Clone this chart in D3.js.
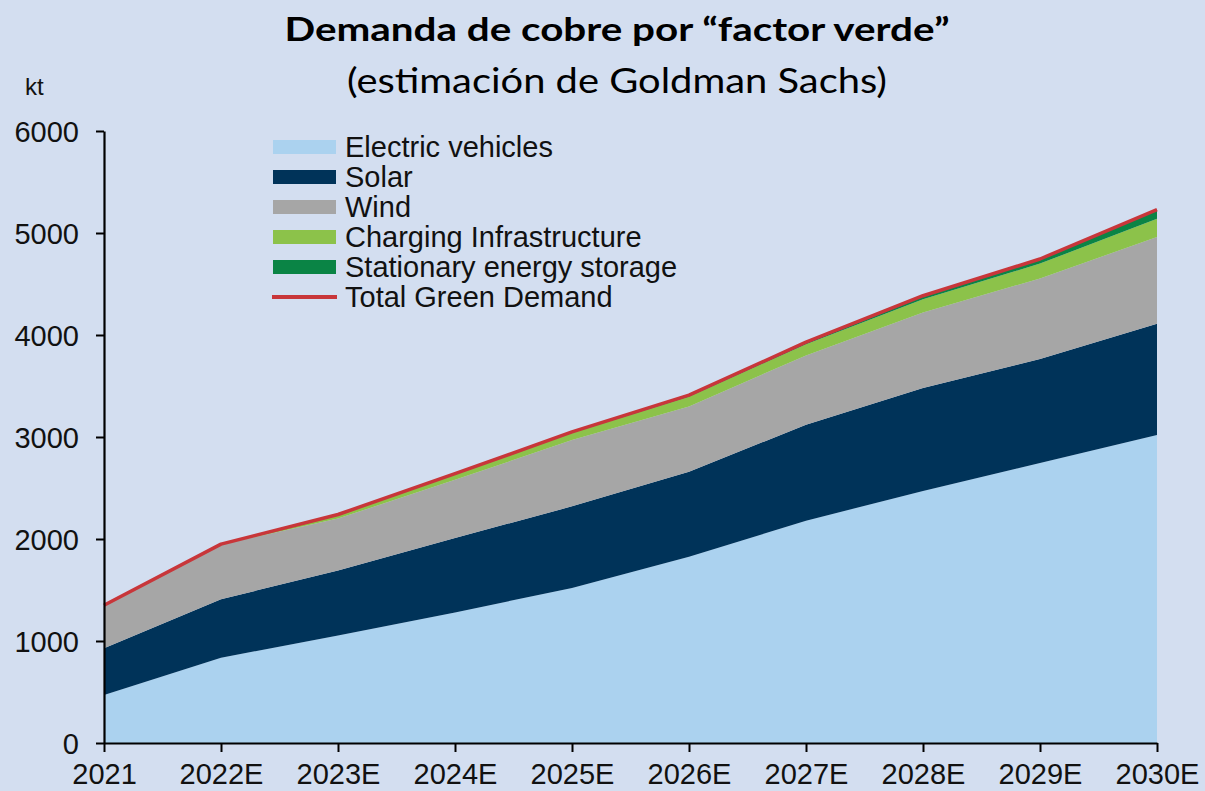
<!DOCTYPE html>
<html><head><meta charset="utf-8">
<script src="https://cdn.jsdelivr.net/npm/d3@7"></script>
<style>
html,body{margin:0;padding:0;background:#D3DEF0;}
svg{display:block;}
</style>
</head><body>
<svg id="chart" width="1205" height="791"></svg>
<script>
// ---- data (kt) ----
const years = ["2021","2022E","2023E","2024E","2025E","2026E","2027E","2028E","2029E","2030E"];
const electricVehicles       = [470, 835, 1055, 1280, 1520, 1825, 2180, 2470, 2745, 3020];
const solar                  = [460, 575,  635,  730,  800,  835,  940, 1010, 1020, 1090];
const wind                   = [420, 535,  510,  570,  650,  640,  680,  740,  790,  850];
const chargingInfrastructure = [  0,   5,   35,   55,   70,   95,  110,  130,  145,  180];
const stationaryStorage      = [  0,   0,    5,    5,   10,   15,   20,   35,   45,   90];
const yTickValues = [0, 1000, 2000, 3000, 4000, 5000, 6000];
const seriesNames = ["Electric vehicles","Solar","Wind","Charging Infrastructure","Stationary energy storage"];
const lineName = "Total Green Demand";
const seriesColors = ["#ABD2EF","#003359","#A6A6A6","#8CC24A","#0A8445"];
const lineColor = "#C8363A";

const seriesValues = [electricVehicles, solar, wind, chargingInfrastructure, stationaryStorage];
const rows = years.map((yr, i) => {
  const r = {year: yr};
  seriesNames.forEach((n, k) => r[n] = seriesValues[k][i]);
  return r;
});
const totals = years.map((yr, i) => seriesValues.reduce((s, arr) => s + arr[i], 0));

const svg = d3.select("#chart");
const x = d3.scalePoint().domain(years).range([104, 1157]);
const y = d3.scaleLinear().domain([0, 6000]).range([743, 131]);

// title
svg.append("text").attr("x", 617).attr("y", 41).attr("text-anchor", "middle")
  .style("font-family", "Lato, 'Open Sans', sans-serif").style("font-weight", "bold")
  .style("font-size", "33px").attr("fill", "#000")
  .attr("textLength", 665).attr("lengthAdjust", "spacingAndGlyphs")
  .text("Demanda de cobre por \u201Cfactor verde\u201D");
svg.append("text").attr("x", 617).attr("y", 93).attr("text-anchor", "middle")
  .style("font-family", "Lato, 'Open Sans', sans-serif")
  .style("font-size", "34px").attr("fill", "#000")
  .attr("textLength", 540).attr("lengthAdjust", "spacingAndGlyphs")
  .text("(estimaci\u00F3n de Goldman Sachs)");

// unit label
svg.append("text").attr("x", 25).attr("y", 95)
  .style("font-family", "'Liberation Sans', Arial, sans-serif")
  .style("font-size", "24px").attr("fill", "#111").text("kt");

// stacked areas
const stack = d3.stack().keys(seriesNames);
const layers = stack(rows);
const area = d3.area()
  .x(d => x(d.data.year))
  .y0(d => y(d[0]))
  .y1(d => y(d[1]));
svg.append("g").selectAll("path").data(layers).join("path")
  .attr("d", area)
  .attr("fill", (d, i) => seriesColors[i]);

// total line
const line = d3.line().x((d, i) => x(years[i])).y(d => y(d));
svg.append("path").datum(totals).attr("d", line)
  .attr("fill", "none").attr("stroke", lineColor).attr("stroke-width", 3.5)
  .attr("stroke-linejoin", "round");

// axes
const axisFont = "'Liberation Sans', Arial, sans-serif";
const yAxis = svg.append("g").attr("transform", "translate(104,0)")
  .call(d3.axisLeft(y).tickValues(yTickValues).tickSize(8).tickSizeOuter(0).tickPadding(17).tickFormat(d3.format("d")));
const xAxis = svg.append("g").attr("transform", "translate(0,743)")
  .call(d3.axisBottom(x).tickSize(9).tickSizeOuter(0).tickPadding(11));
[yAxis, xAxis].forEach(g => {
  g.select(".domain").attr("stroke", "#000").attr("stroke-width", 2.2);
  g.selectAll(".tick line").attr("stroke", "#000").attr("stroke-width", 2);
  g.selectAll(".tick text").style("font-family", axisFont).style("font-size", "29px").attr("fill", "#111");
});
yAxis.selectAll(".tick text").attr("dy", "0.36em");

// legend
const legendNames = seriesNames.concat([lineName]);
const leg = svg.append("g").attr("transform", "translate(273,147)");
const item = leg.selectAll("g").data(legendNames).join("g")
  .attr("transform", (d, i) => `translate(0,${i * 30})`);
item.each(function(d, i) {
  const g = d3.select(this);
  if (i < seriesNames.length) {
    g.append("rect").attr("x", 0).attr("y", -7).attr("width", 63).attr("height", 14)
      .attr("fill", seriesColors[i]);
  } else {
    g.append("line").attr("x1", -1).attr("x2", 64).attr("y1", 0).attr("y2", 0)
      .attr("stroke", lineColor).attr("stroke-width", 4);
  }
  g.append("text").attr("x", 72).attr("y", 0).attr("dy", "0.36em")
    .style("font-family", axisFont).style("font-size", "29px").attr("fill", "#111")
    .text(d);
});
</script>
</body></html>
